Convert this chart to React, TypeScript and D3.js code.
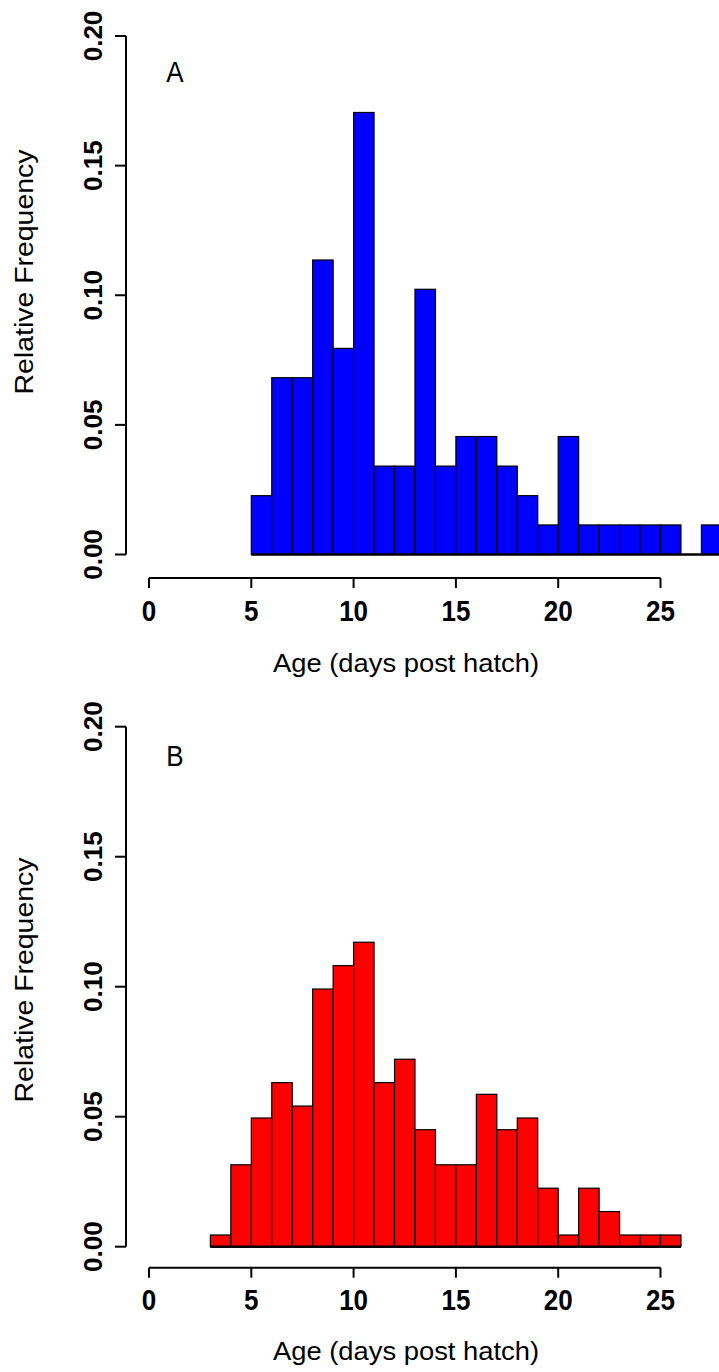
import React from "react";
import * as d3 from "d3";

// Panel A: relative frequency per 1-day age bin, bins start at these ages
const binStartsA = [5, 6, 7, 8, 9, 10, 11, 12, 13, 14, 15, 16, 17, 18, 19, 20, 21, 22, 23, 24, 25, 26, 27];
const freqA = [0.0227, 0.0682, 0.0682, 0.1136, 0.0795, 0.1705, 0.0341, 0.0341, 0.1023, 0.0341, 0.0455, 0.0455, 0.0341, 0.0227, 0.0114, 0.0455, 0.0114, 0.0114, 0.0114, 0.0114, 0.0114, 0, 0.0114];

// Panel B
const binStartsB = [3, 4, 5, 6, 7, 8, 9, 10, 11, 12, 13, 14, 15, 16, 17, 18, 19, 20, 21, 22, 23, 24, 25];
const freqB = [0.0045, 0.0315, 0.0495, 0.0631, 0.0541, 0.0991, 0.1081, 0.1171, 0.0631, 0.0721, 0.045, 0.0315, 0.0315, 0.0586, 0.045, 0.0495, 0.0225, 0.0045, 0.0225, 0.0135, 0.0045, 0.0045, 0.0045];

const binWidth = 1;
const xTicks = [0, 5, 10, 15, 20, 25];
const yTicks = [0, 0.05, 0.1, 0.15, 0.2];
const yTickLabels = ["0.00", "0.05", "0.10", "0.15", "0.20"];
const xTitle = "Age (days post hatch)";
const yTitle = "Relative Frequency";

const FONT = "'Liberation Sans', Arial, Helvetica, sans-serif";

type PanelProps = {
  starts: number[];
  freqs: number[];
  color: string;
  letter: string;
  yTop: number;
  yBottom: number;
  xAxisY: number;
  tickLabelBase: number;
  titleBase: number;
  yTitleCenter: number;
  letterBase: number;
};

function Panel(p: PanelProps) {
  const x = d3.scaleLinear().domain([0, 25]).range([149, 660.5]);
  const y = d3.scaleLinear().domain([0, 0.2]).range([p.yBottom, p.yTop]);
  const axisX = 126;
  const first = p.starts[0];
  const last = p.starts[p.starts.length - 1] + binWidth;
  return (
    <g>
      {/* bars */}
      {p.starts.map((s, i) => (
        <rect
          key={i}
          x={x(s)}
          y={y(p.freqs[i])}
          width={x(s + binWidth) - x(s)}
          height={y(0) - y(p.freqs[i])}
          fill={p.color}
          stroke="#000"
          strokeWidth={1.2}
        />
      ))}
      <line x1={x(first)} x2={x(last)} y1={y(0)} y2={y(0)} stroke="#000" strokeWidth={2.6} />

      {/* y axis */}
      <line x1={axisX} x2={axisX} y1={y(0.2)} y2={y(0)} stroke="#000" strokeWidth={2} />
      {yTicks.map((t, i) => (
        <g key={i}>
          <line x1={axisX - 11} x2={axisX} y1={y(t)} y2={y(t)} stroke="#000" strokeWidth={2} />
          <text
            transform={`translate(101.5, ${y(t)}) rotate(-90)`}
            textAnchor="middle"
            fontFamily={FONT}
            fontWeight="bold"
            fontSize={26}
            fill="#000"
          >
            {yTickLabels[i]}
          </text>
        </g>
      ))}

      {/* x axis */}
      <line x1={x(0)} x2={x(25)} y1={p.xAxisY} y2={p.xAxisY} stroke="#000" strokeWidth={2} />
      {xTicks.map((t, i) => (
        <g key={i}>
          <line x1={x(t)} x2={x(t)} y1={p.xAxisY} y2={p.xAxisY + 10} stroke="#000" strokeWidth={2} />
          <text
            transform={`translate(${x(t)}, ${p.tickLabelBase}) scale(1, 1.12)`}
            textAnchor="middle"
            fontFamily={FONT}
            fontWeight="bold"
            fontSize={26}
            fill="#000"
          >
            {String(t)}
          </text>
        </g>
      ))}

      {/* titles */}
      <text
        x={406}
        y={p.titleBase}
        textAnchor="middle"
        fontFamily={FONT}
        fontSize={26}
        textLength={266}
        lengthAdjust="spacingAndGlyphs"
        fill="#000"
      >
        {xTitle}
      </text>
      <text
        transform={`translate(33.3, ${p.yTitleCenter}) rotate(-90)`}
        textAnchor="middle"
        fontFamily={FONT}
        fontSize={25}
        textLength={245}
        lengthAdjust="spacingAndGlyphs"
        fill="#000"
      >
        {yTitle}
      </text>
      <text
        transform={`translate(175, ${p.letterBase}) scale(1, 1.15)`}
        textAnchor="middle"
        fontFamily={FONT}
        fontSize={26}
        fill="#000"
      >
        {p.letter}
      </text>
    </g>
  );
}

export default function App() {
  return (
    <svg
      width={719}
      height={1372}
      viewBox="0 0 719 1372"
      style={{ position: "absolute", left: 0, top: 0, background: "#fff" }}
    >
      <rect x={0} y={0} width={719} height={1372} fill="#fff" />
      <Panel
        starts={binStartsA}
        freqs={freqA}
        color="#0000FF"
        letter="A"
        yTop={36}
        yBottom={554.5}
        xAxisY={578}
        tickLabelBase={621}
        titleBase={672}
        yTitleCenter={272}
        letterBase={82}
      />
      <Panel
        starts={binStartsB}
        freqs={freqB}
        color="#FF0000"
        letter="B"
        yTop={726.7}
        yBottom={1246.7}
        xAxisY={1267.7}
        tickLabelBase={1310}
        titleBase={1360}
        yTitleCenter={980}
        letterBase={766}
      />
    </svg>
  );
}
